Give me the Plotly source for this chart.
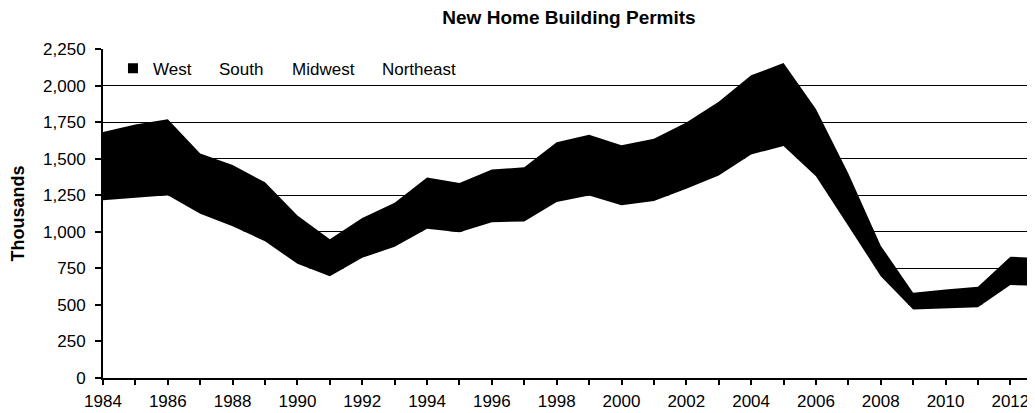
import plotly.graph_objects as go

# ---- data (thousands of permits) ----
years = list(range(1984, 2014))
# West (black band, top layer of the stack)
west = [466, 501, 519, 412, 418, 403, 330, 253, 273, 302, 352, 336, 360, 371, 409,
        416, 410, 427, 454, 504, 541, 569, 459, 358, 209, 114, 131, 140, 194, 191]
# South + Midwest + Northeast combined (all drawn white, so only their sum is visible)
south_midwest_northeast = [1216, 1232, 1250, 1123, 1038, 935, 781, 696, 822, 897, 1020,
                           997, 1066, 1070, 1203, 1248, 1182, 1210, 1294, 1385, 1529,
                           1586, 1380, 1040, 696, 469, 474, 484, 636, 628]

legend_names = ["West", "South", "Midwest", "Northeast"]
legend_colors = ["black", "white", "white", "white"]
legend_ids = ["legend", "legend2", "legend3", "legend4"]
legend_x = [0.0107, 0.0815, 0.1599, 0.2564]

x_tick_vals = list(range(1984, 2013))
x_tick_text = [str(y) if y % 2 == 0 else "" for y in x_tick_vals]
y_tick_vals = list(range(0, 2251, 250))

FONT = "Arial, 'Liberation Sans', sans-serif"

fig = go.Figure()

fig.add_trace(go.Scatter(
    x=years, y=south_midwest_northeast, name="South + Midwest + Northeast",
    stackgroup="one", mode="lines", line=dict(width=0, color="white"),
    fillcolor="white", showlegend=False, hoverinfo="skip"))
fig.add_trace(go.Scatter(
    x=years, y=west, name="West",
    stackgroup="one", mode="lines", line=dict(width=0, color="black"),
    fillcolor="black", showlegend=False))

for name, col, lid in zip(legend_names, legend_colors, legend_ids):
    fig.add_trace(go.Scatter(
        x=[None], y=[None], name=name, mode="markers", legend=lid,
        marker=dict(symbol="square", size=10, color=col, line=dict(width=0)),
        showlegend=True))

legend_style = dict(orientation="h", xanchor="left", y=0.94, yanchor="middle",
                    bgcolor="rgba(0,0,0,0)", itemwidth=30,
                    font=dict(family=FONT, size=17, color="black"))
layout_legends = {lid: dict(x=lx, **legend_style) for lid, lx in zip(legend_ids, legend_x)}

# the page has an 8px body margin, so the figure is sized to end at the window edge
fig.update_layout(
    width=1027, height=405,
    margin=dict(l=95, r=0, t=41, b=35),
    paper_bgcolor="white", plot_bgcolor="white",
    font=dict(family=FONT, color="black", size=17),
    title=dict(text="<b>New Home Building Permits</b>", xref="paper", x=0.5,
               xanchor="center", y=0.978, yanchor="middle",
               font=dict(family=FONT, size=19, color="black")),
    showlegend=True,
    **layout_legends,
)

fig.update_xaxes(
    range=[1984, 2012.76], tickvals=x_tick_vals, ticktext=x_tick_text,
    showgrid=False, zeroline=False, showline=True, linecolor="black", linewidth=2,
    ticks="outside", ticklen=5, tickwidth=1.5, tickcolor="black", ticklabelstandoff=2,
    tickfont=dict(family=FONT, size=17, color="black"))

fig.update_yaxes(
    range=[0, 2250], tickvals=y_tick_vals, tickformat=",",
    showgrid=True, gridcolor="black", gridwidth=1.2, zeroline=False,
    showline=True, linecolor="black", linewidth=2,
    ticks="outside", ticklen=6, tickwidth=1.5, tickcolor="black", ticklabelstandoff=6,
    tickfont=dict(family=FONT, size=17, color="black"),
    title=dict(text="<b>Thousands</b>", standoff=20,
               font=dict(family=FONT, size=18, color="black")))

fig.write_html("out.html")
